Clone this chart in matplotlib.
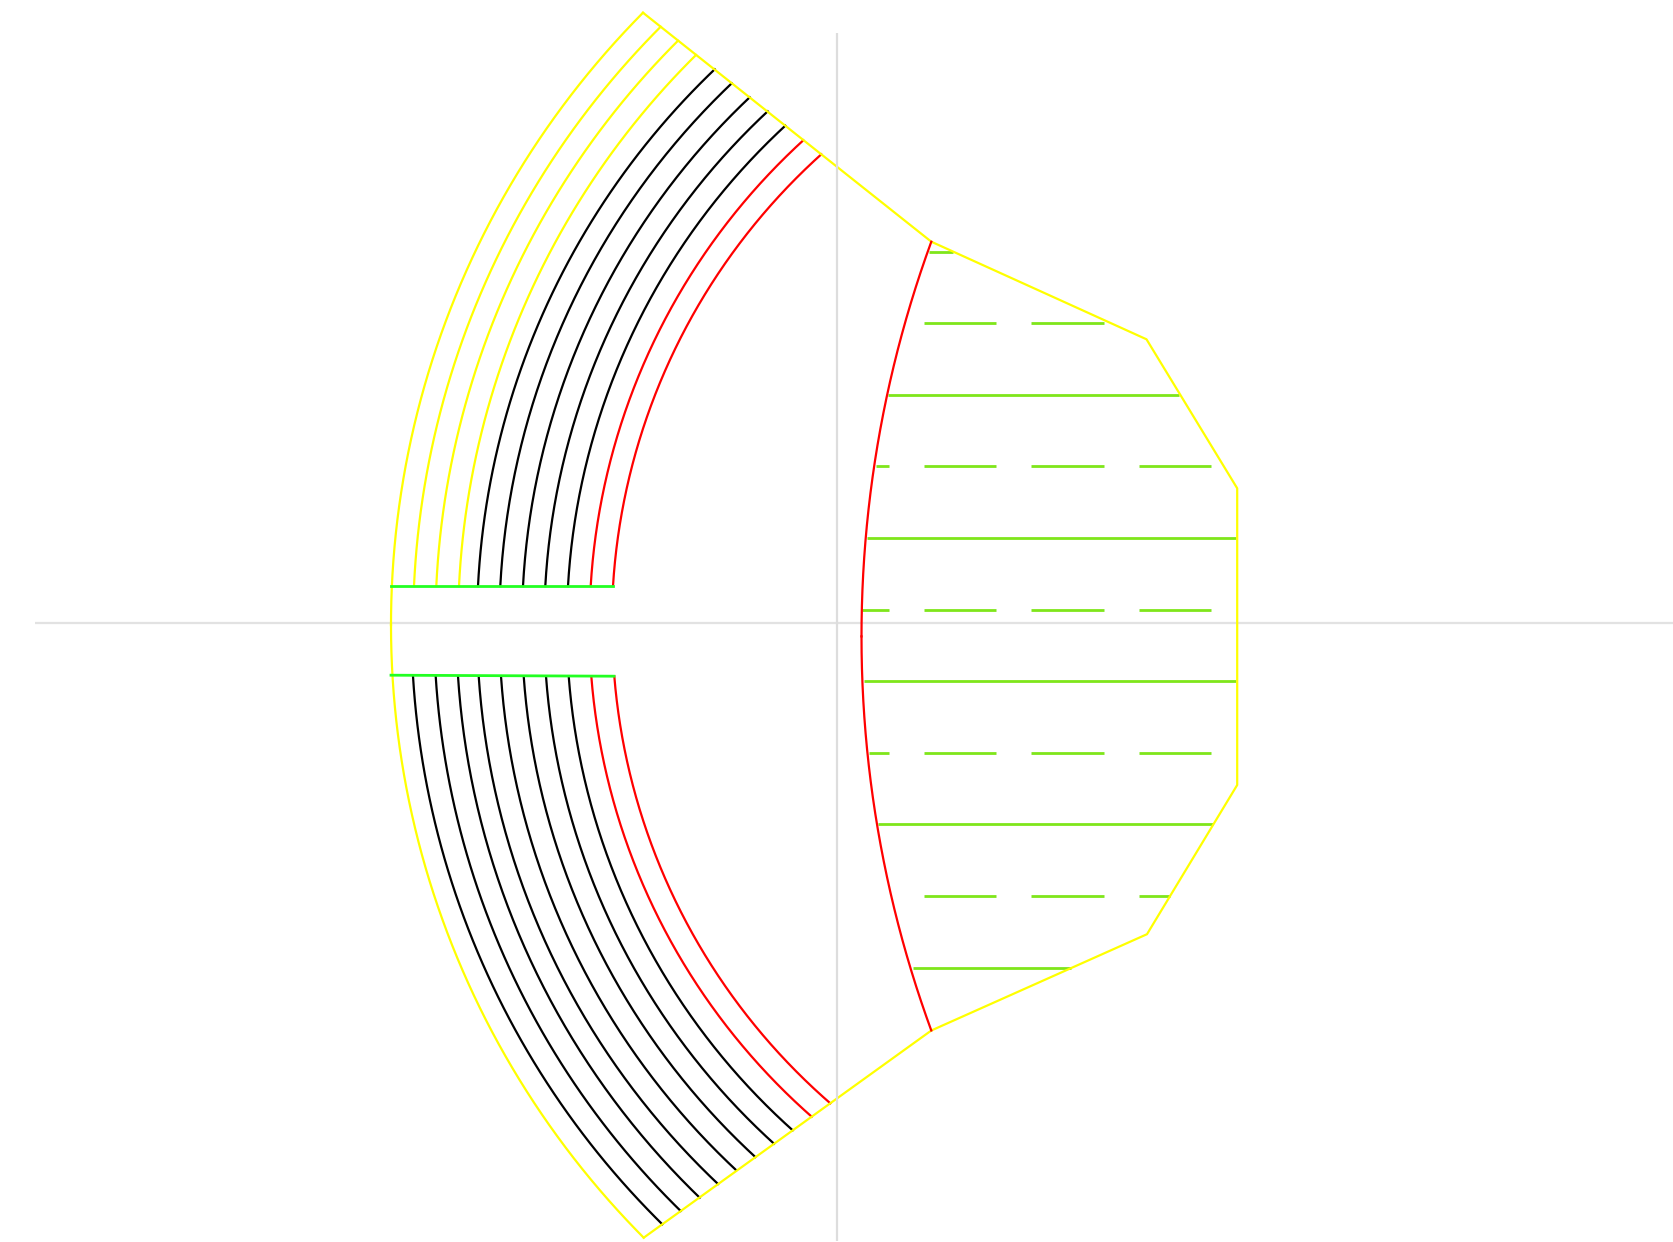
# -*- coding: utf-8 -*-

import numpy as np
import matplotlib
matplotlib.use('Agg')
import matplotlib.pyplot as plt

WIDTH = 1674
HEIGHT = 1242

# guide lines
h_guide_y = 623
h_guide_x = [35, 1674]
v_guide_x = 837.4
v_guide_y = [33, 1241]

# outer curve through the two apexes
outer_x = [643, 391, 643.7]
outer_y = [12.7, 625, 1237.7]

# outline on the right hand side
outline_x = [643, 931.3, 1146.5, 1237.2, 1237.2, 1147, 931.3, 643.7]
outline_y = [12.7, 241.7, 339.3, 488.3, 785, 934.2, 1030.5, 1237.7]

# upper arcs, from the green bar to the slanted edge
upper_start_x = [414, 436.3, 459, 478, 500.3, 523, 545.3, 568, 590.7, 613]
upper_end_x = [660.7, 678, 696, 714.7, 731.7, 749.7, 767.7, 785.3, 803.3, 821.3]
upper_end_y = [26.7, 40.7, 55, 69.3, 83.3, 97.3, 111.3, 125.7, 140.3, 154.3]
upper_colors = ['yellow'] * 3 + ['black'] * 5 + ['red'] * 2
upper_bar_y = 586

# lower arcs
lower_start_x = [413, 435.7, 458, 478.7, 501, 523.7, 546, 568.7, 591.3, 614.3]
lower_end_x = [662.3, 680.7, 699.7, 718, 736.3, 755.3, 774, 792.7, 811.7, 830.3]
lower_end_y = [1224.3, 1211, 1197.7, 1184, 1170.3, 1157, 1143.7, 1130.3, 1116.7, 1103.3]
lower_colors = ['black'] * 8 + ['red'] * 2
lower_bar_y = [675.2, 676.2]
bar_x = [391, 613.3, 614.0]

# red curve on the right
red_x = [931.3, 861.5, 931.3]
red_y = [241.7, 636.4, 1030.5]

# horizontal dashes: y, then (x0, x1) pieces
dash_y = [251.7, 323.3, 395, 466.3, 538, 609.6, 681, 752.7, 824.3, 896.3, 967.7]
dash_x = [
    [(929.3, 952.8)],
    [(924, 996.5), (1031.5, 1104)],
    [(888.3, 1179.5)],
    [(875.7, 889.5), (924, 996.5), (1031.5, 1104), (1139, 1211.5)],
    [(867, 1236.5)],
    [(862, 889.5), (924, 996.5), (1031.5, 1104), (1139, 1211.5)],
    [(864, 1236.5)],
    [(869, 889.5), (924, 996.5), (1031.5, 1104), (1139, 1211.5)],
    [(878.3, 1213)],
    [(924, 996.5), (1031.5, 1104), (1139, 1170)],
    [(913.3, 1071.5)],
]


def arc_points(x0, y0, x1, y1, cy):
    # circle through both points with its centre on the line y = cy
    cx = (x1 ** 2 - x0 ** 2 + (y1 - cy) ** 2 - (y0 - cy) ** 2) / (2 * (x1 - x0))
    r = np.hypot(x0 - cx, y0 - cy)
    a0 = np.arctan2(y0 - cy, x0 - cx) % (2 * np.pi)
    a1 = np.arctan2(y1 - cy, x1 - cx) % (2 * np.pi)
    t = np.linspace(a0, a1, 200)
    return cx + r * np.cos(t), cy + r * np.sin(t)


fig = plt.figure(figsize=(WIDTH / 100, HEIGHT / 100), dpi=100)
ax = fig.add_axes([0, 0, 1, 1])
ax.set_xlim(0, WIDTH)
ax.set_ylim(HEIGHT, 0)
ax.axis('off')

lw = 1.6

ax.plot(h_guide_x, [h_guide_y, h_guide_y], color='#e2e2e2', lw=lw, solid_capstyle='butt')
ax.plot([v_guide_x, v_guide_x], v_guide_y, color='#dddddd', lw=lw, zorder=4, solid_capstyle='butt')

for x0, x1, y1, c in zip(upper_start_x, upper_end_x, upper_end_y, upper_colors):
    xs, ys = arc_points(x0, upper_bar_y, x1, y1, 625)
    ax.plot(xs, ys, color=c, lw=lw, zorder=2)

for x0, x1, y1, c in zip(lower_start_x, lower_end_x, lower_end_y, lower_colors):
    xs, ys = arc_points(x0, lower_bar_y[1], x1, y1, 625)
    ax.plot(xs, ys, color=c, lw=lw, zorder=2)

# outer curve: two halves meeting on the middle line
xs, ys = arc_points(outer_x[0], outer_y[0], outer_x[1], outer_y[1], outer_y[1])
ax.plot(xs, ys, color='yellow', lw=lw, zorder=3)
xs, ys = arc_points(outer_x[1], outer_y[1], outer_x[2], outer_y[2], outer_y[1])
ax.plot(xs, ys, color='yellow', lw=lw, zorder=3)
ax.plot(outline_x, outline_y, color='yellow', lw=lw, zorder=3)

ax.plot(bar_x[:2], [upper_bar_y, upper_bar_y], color='#22ff22', lw=2.0, zorder=5)
ax.plot([bar_x[0], bar_x[2]], lower_bar_y, color='#22ff22', lw=2.0, zorder=5)

xs, ys = arc_points(red_x[0], red_y[0], red_x[1], red_y[1], red_y[1])
ax.plot(xs, ys, color='red', lw=lw, zorder=3)
xs, ys = arc_points(red_x[1], red_y[1], red_x[2], red_y[2], red_y[1])
ax.plot(xs, ys, color='red', lw=lw, zorder=3)

for y, pieces in zip(dash_y, dash_x):
    for x0, x1 in pieces:
        ax.plot([x0, x1], [y, y], color='#7fe61a', lw=2.0, zorder=2, solid_capstyle='butt')

fig.savefig('out.png', dpi=100)
